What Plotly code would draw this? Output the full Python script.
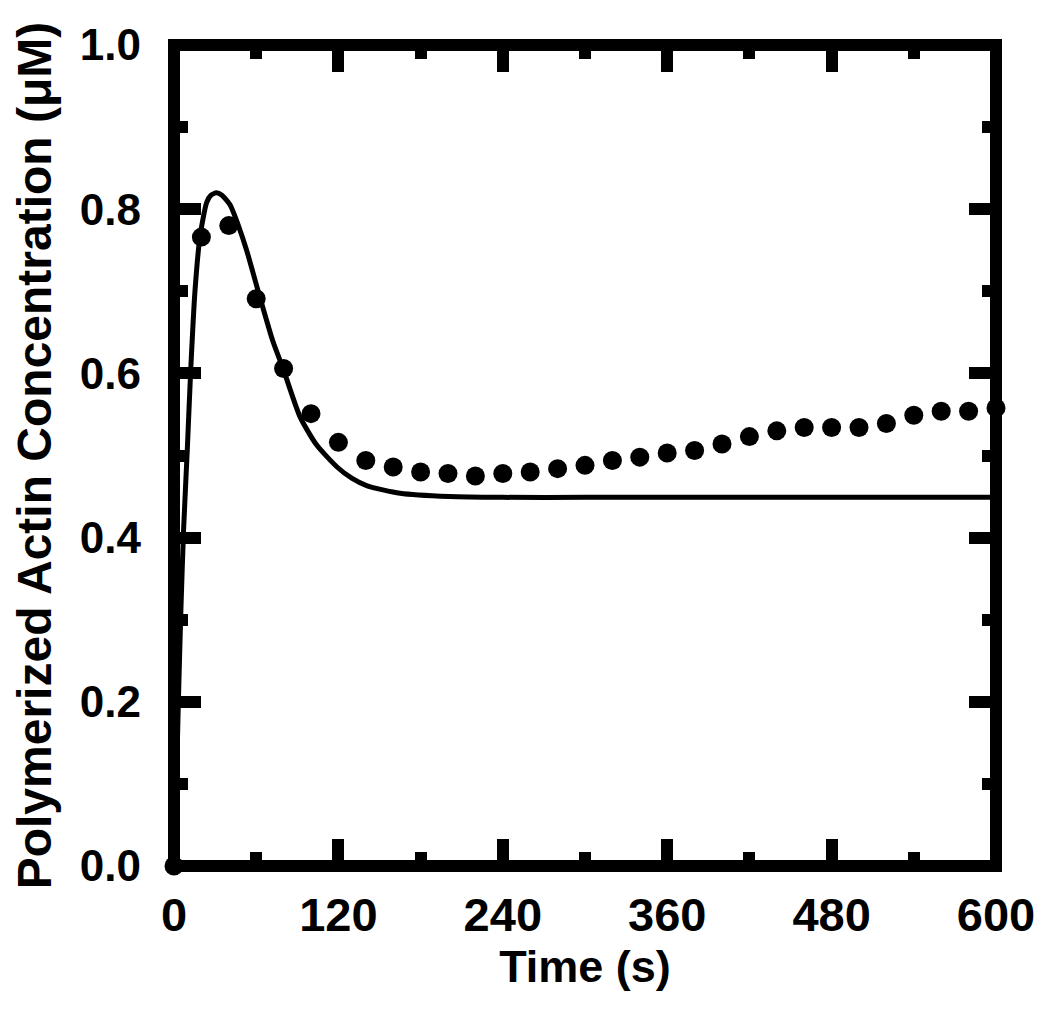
import plotly.graph_objects as go

# Measured data (dots)
time_data = [0, 20, 40, 60, 80, 100, 120, 140, 160, 180, 200, 220, 240, 260, 280,
             300, 320, 340, 360, 380, 400, 420, 440, 460, 480, 500, 520, 540, 560, 580, 600]
actin_data = [0.0, 0.766, 0.780, 0.691, 0.606, 0.551, 0.516, 0.494, 0.486, 0.480,
              0.478, 0.475, 0.478, 0.480, 0.484, 0.488, 0.494, 0.498, 0.503, 0.506,
              0.514, 0.523, 0.530, 0.534, 0.534, 0.534, 0.539, 0.549, 0.554, 0.554, 0.558]

# Model curve (solid line)
time_model = [0, 2, 3.5, 5, 7, 9.7, 12.2, 15.3, 19, 23.8, 27, 31, 35, 41, 47, 53, 63, 72,
              80, 92, 104, 119, 130, 141, 165, 201, 240, 300, 400, 500, 600]
actin_model = [0.0, 0.12, 0.22, 0.31, 0.41, 0.507, 0.604, 0.700, 0.767, 0.808, 0.817, 0.820,
               0.817, 0.805, 0.780, 0.750, 0.691, 0.640, 0.604, 0.547, 0.513, 0.486,
               0.472, 0.463, 0.454, 0.450, 0.449, 0.449, 0.449, 0.449, 0.449]

x_ticks = [0, 120, 240, 360, 480, 600]
y_ticks = [0.0, 0.2, 0.4, 0.6, 0.8, 1.0]
y_tick_labels = ["0.0", "0.2", "0.4", "0.6", "0.8", "1.0"]

FONT = "Liberation Sans, Arial, Helvetica, sans-serif"

fig = go.Figure()
fig.add_trace(go.Scatter(
    x=time_model, y=actin_model, mode="lines",
    line=dict(color="black", width=5, shape="spline", smoothing=0.6),
    showlegend=False, cliponaxis=True,
))
fig.add_trace(go.Scatter(
    x=time_data, y=actin_data, mode="markers",
    marker=dict(color="black", size=19, line=dict(width=0)),
    showlegend=False, cliponaxis=False,
))

fig.update_layout(
    width=1050, height=1026,
    margin=dict(l=166, r=62, t=37, b=168, autoexpand=False),
    plot_bgcolor="white", paper_bgcolor="white",
    font=dict(family=FONT, color="black", weight="bold"),
    shapes=[dict(type="rect", xref="paper", yref="paper", x0=0, x1=1, y0=0, y1=1,
                 line=dict(color="black", width=12), layer="below")],
)

fig.update_xaxes(
    range=[0, 600], showgrid=False, zeroline=False, showline=False,
    tickmode="array", tickvals=x_ticks, ticktext=[str(v) for v in x_ticks],
    ticks="inside", ticklen=27, tickwidth=12, tickcolor="black", mirror="ticks",
    minor=dict(ticks="inside", dtick=60, ticklen=14, tickwidth=12, tickcolor="black", showgrid=False),
    tickfont=dict(family=FONT, size=47, color="black", weight="bold"),
    ticklabelstandoff=17,
    title=dict(text="Time (s)", font=dict(family=FONT, size=45, color="black", weight="bold"), standoff=8),
    automargin=False,
)
fig.update_yaxes(
    range=[0, 1.0], showgrid=False, zeroline=False, showline=False,
    tickmode="array", tickvals=y_ticks, ticktext=y_tick_labels,
    ticks="inside", ticklen=27, tickwidth=12, tickcolor="black", mirror="ticks",
    minor=dict(ticks="inside", dtick=0.1, ticklen=14, tickwidth=12, tickcolor="black", showgrid=False),
    tickfont=dict(family=FONT, size=44, color="black", weight="bold"),
    ticklabelstandoff=32,
    title=dict(text="Polymerized Actin Concentration (μM)",
               font=dict(family=FONT, size=48, color="black", weight="bold"), standoff=16),
    automargin=False,
)

fig.write_html("out.html")
